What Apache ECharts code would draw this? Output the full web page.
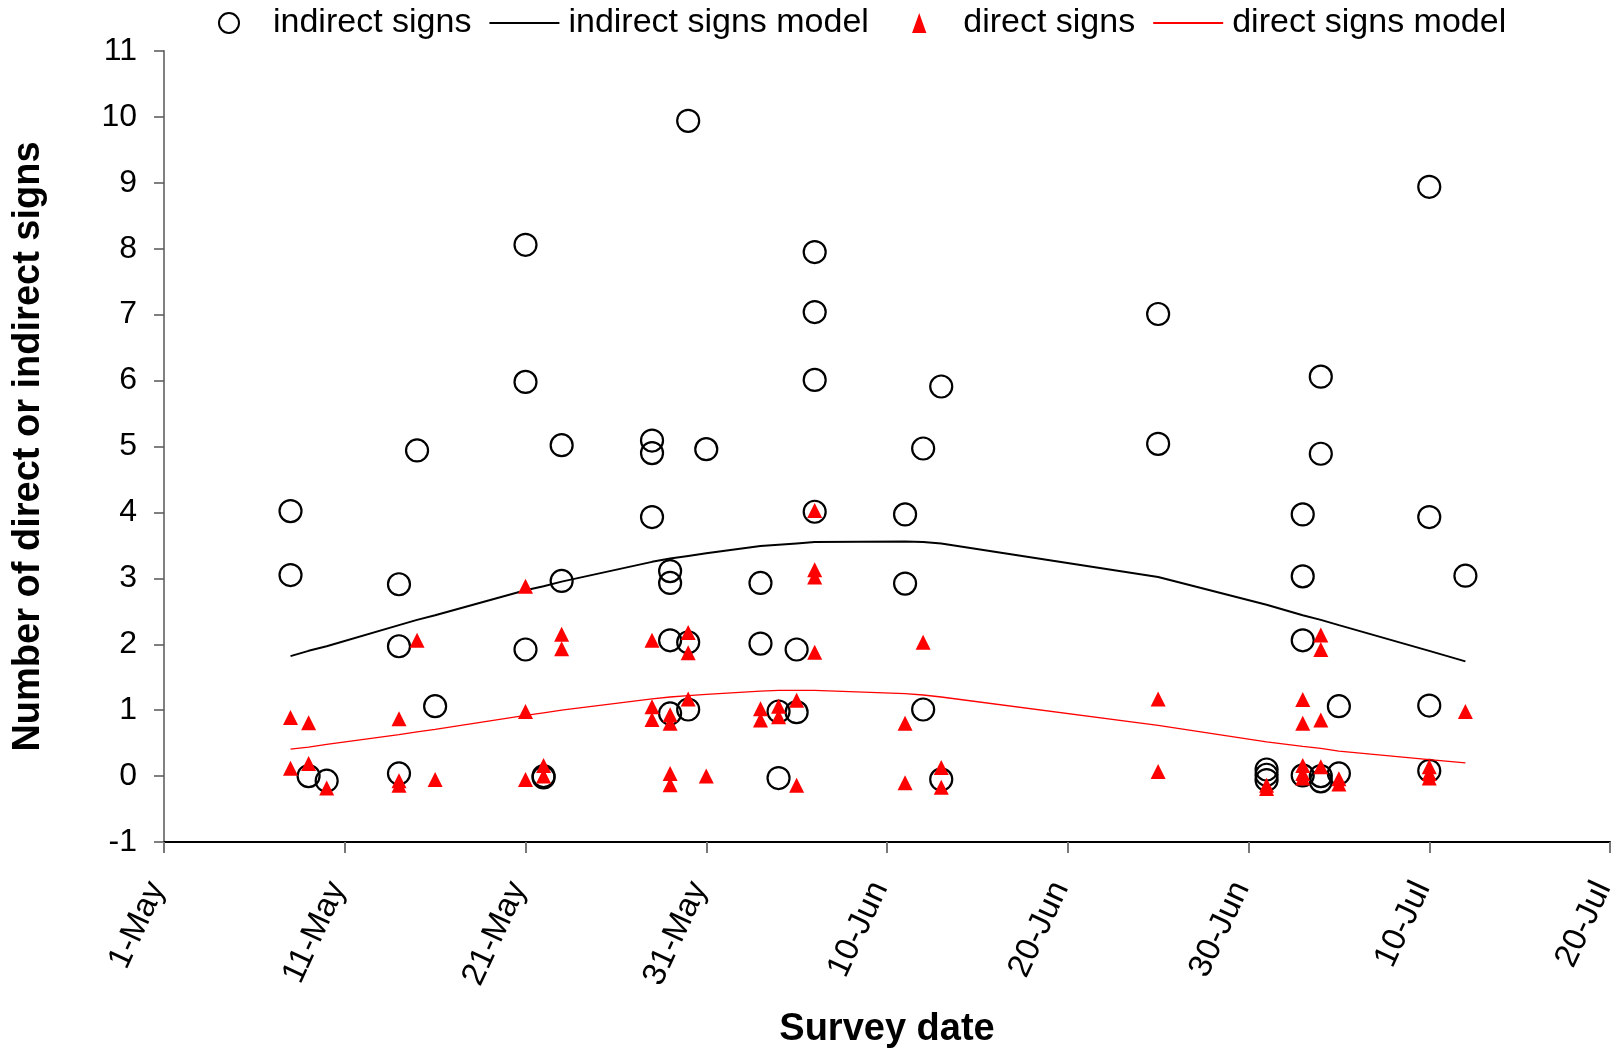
<!DOCTYPE html>
<html>
<head>
<meta charset="utf-8">
<script src="https://cdn.jsdelivr.net/npm/echarts@6/dist/echarts.min.js"></script>
<style>
html,body{margin:0;padding:0;background:#fff;}
#chart{width:1618px;height:1049px;}
</style>
</head>
<body>
<div id="chart"></div>
<script>
// Tick labels of the date axis (every 10 days from 1-May)
const xTickLabels = ['1-May','11-May','21-May','31-May','10-Jun','20-Jun','30-Jun','10-Jul','20-Jul'];
const yTickMin = -1, yTickMax = 11;

// Observed counts (values slightly jittered in the original figure)
const indirectSigns = [
  ['8-May',4.02],['8-May',3.05],['9-May',0.0],['10-May',-0.07],
  ['14-May',2.91],['14-May',1.97],['14-May',0.04],['15-May',4.94],['16-May',1.06],
  ['21-May',8.06],['21-May',5.98],['21-May',1.92],['22-May',0.0],['22-May',-0.02],
  ['23-May',5.02],['23-May',2.96],
  ['28-May',5.09],['28-May',4.90],['28-May',3.93],
  ['29-May',3.11],['29-May',2.93],['29-May',2.06],['29-May',0.95],
  ['30-May',9.94],['30-May',2.03],['30-May',1.01],['31-May',4.96],
  ['3-Jun',2.93],['3-Jun',2.01],['4-Jun',0.98],['4-Jun',-0.03],['5-Jun',1.92],['5-Jun',0.97],
  ['6-Jun',7.95],['6-Jun',7.04],['6-Jun',6.01],['6-Jun',4.01],
  ['11-Jun',3.97],['11-Jun',2.92],['12-Jun',4.97],['12-Jun',1.01],['13-Jun',5.91],['13-Jun',-0.05],
  ['25-Jun',7.01],['25-Jun',5.04],
  ['1-Jul',0.10],['1-Jul',0.02],['1-Jul',-0.06],
  ['3-Jul',3.97],['3-Jul',3.03],['3-Jul',2.06],['3-Jul',0.01],
  ['4-Jul',6.06],['4-Jul',4.89],['4-Jul',0.0],['4-Jul',-0.08],
  ['5-Jul',1.06],['5-Jul',0.04],
  ['10-Jul',8.94],['10-Jul',3.93],['10-Jul',1.07],['10-Jul',0.08],
  ['12-Jul',3.04]
];
const directSigns = [
  ['8-May',0.89],['8-May',0.12],['9-May',0.81],['9-May',0.19],['10-May',-0.18],
  ['14-May',0.87],['14-May',-0.07],['14-May',-0.14],['15-May',2.06],['16-May',-0.05],
  ['21-May',2.88],['21-May',0.98],['21-May',-0.05],['22-May',0.16],['22-May',0.0],
  ['23-May',2.15],['23-May',1.93],
  ['28-May',2.06],['28-May',1.05],['28-May',0.86],
  ['29-May',0.93],['29-May',0.80],['29-May',0.04],['29-May',-0.13],
  ['30-May',2.18],['30-May',1.87],['30-May',1.17],['31-May',0.0],
  ['3-Jun',1.02],['3-Jun',0.85],['4-Jun',1.06],['4-Jun',0.90],['5-Jun',1.15],['5-Jun',-0.14],
  ['6-Jun',4.03],['6-Jun',3.13],['6-Jun',3.02],['6-Jun',1.88],
  ['11-Jun',0.80],['11-Jun',-0.10],['12-Jun',2.03],['13-Jun',0.13],['13-Jun',-0.17],
  ['25-Jun',1.17],['25-Jun',0.07],
  ['1-Jul',-0.14],['1-Jul',-0.19],
  ['3-Jul',1.16],['3-Jul',0.80],['3-Jul',0.16],['3-Jul',0.04],['3-Jul',-0.03],
  ['4-Jul',2.14],['4-Jul',1.92],['4-Jul',0.85],['4-Jul',0.14],
  ['5-Jul',-0.04],['5-Jul',-0.12],
  ['10-Jul',0.14],['10-Jul',0.04],['10-Jul',-0.03],
  ['12-Jul',0.98]
];

// Fitted model values at each survey date
const surveyDates = ['8-May','9-May','10-May','14-May','15-May','16-May','21-May','22-May','23-May',
  '28-May','29-May','30-May','31-May','3-Jun','4-Jun','5-Jun','6-Jun','11-Jun','12-Jun','13-Jun',
  '25-Jun','1-Jul','3-Jul','4-Jul','5-Jul','10-Jul','12-Jul'];
const indirectModel = [1.82,1.90,1.97,2.29,2.37,2.44,2.82,2.88,2.95,
  3.25,3.30,3.34,3.38,3.49,3.51,3.53,3.55,3.56,3.55,3.53,
  3.02,2.60,2.44,2.37,2.29,1.90,1.74];
const directModel = [0.41,0.44,0.48,0.63,0.67,0.71,0.92,0.96,1.00,
  1.17,1.20,1.22,1.24,1.29,1.30,1.30,1.30,1.25,1.23,1.20,
  0.77,0.52,0.45,0.42,0.38,0.25,0.20];

// date string -> days since 1-May
const monthStart = {May:0, Jun:31, Jul:61};
function dayOf(s){ const p = s.split('-'); return monthStart[p[1]] + Number(p[0]) - 1; }

const FONT = "'Liberation Sans', Arial, sans-serif";
const chart = echarts.init(document.getElementById('chart'), null, {renderer:'canvas'});

chart.setOption({
  animation: false,
  backgroundColor: '#ffffff',
  textStyle: {fontFamily: FONT, color: '#000'},
  legend: {
    left: 213, top: 1,
    itemWidth: 70, itemHeight: 20, itemGap: 17,
    symbolKeepAspect: true,
    textStyle: {fontSize: 34, fontFamily: FONT, color: '#000', padding: [0,0,0,4]},
    data: [
      {name: 'indirect signs', icon: 'circle'},
      {name: 'indirect signs model', itemStyle: {opacity: 0}},
      {name: 'direct signs', icon: 'path://M-27.5,21L-27.5,21ZM0,21L7.5,0L15,21ZM42.5,0L42.5,0Z', symbolKeepAspect: true},
      {name: 'direct signs model', itemStyle: {opacity: 0}}
    ]
  },
  grid: {left: 164, right: 8, top: 51, bottom: 207, containLabel: false, outerBoundsMode: 'none'},
  xAxis: {
    type: 'value', min: 0, max: 80, interval: 10,
    name: 'Survey date', nameLocation: 'middle', nameGap: 169,
    nameTextStyle: {fontSize: 38, fontWeight: 'bold', fontFamily: FONT, color: '#000'},
    axisLine: {show: true, onZero: false, lineStyle: {color: '#000', width: 2}},
    axisTick: {show: true, inside: false, length: 11, lineStyle: {color: '#777', width: 2}},
    axisLabel: {
      rotate: 65, margin: 45, fontSize: 33, fontFamily: FONT, color: '#000',
      align: 'right', verticalAlign: 'bottom', lineHeight: 16,
      formatter: function(v){ return xTickLabels[Math.round(v/10)]; }
    },
    splitLine: {show: false}
  },
  yAxis: {
    type: 'value', min: yTickMin, max: yTickMax, interval: 1,
    name: 'Number of direct or indirect signs', nameLocation: 'middle', nameGap: 116, nameRotate: 90,
    nameTextStyle: {fontSize: 38, fontWeight: 'bold', fontFamily: FONT, color: '#000'},
    axisLine: {show: true, onZero: false, lineStyle: {color: '#808080', width: 2}},
    axisTick: {show: true, inside: false, length: 10, lineStyle: {color: '#555', width: 1.5}},
    axisLabel: {margin: 27, fontSize: 32, fontFamily: FONT, color: '#000'},
    splitLine: {show: false}
  },
  series: [
    {
      name: 'indirect signs', type: 'scatter', symbol: 'circle', symbolSize: 22,
      itemStyle: {color: 'rgba(255,255,255,0)', borderColor: '#000', borderWidth: 2.2, opacity: 1},
      emphasis: {disabled: true},
      data: indirectSigns.map(p => [dayOf(p[0]), p[1]]),
      z: 2
    },
    {
      name: 'indirect signs model', type: 'line', symbol: 'none', showSymbol: false, smooth: false,
      lineStyle: {color: '#000', width: 2},
      itemStyle: {color: '#000'},
      emphasis: {disabled: true},
      data: surveyDates.map((d, i) => [dayOf(d), indirectModel[i]]),
      z: 3
    },
    {
      name: 'direct signs', type: 'scatter', symbol: 'triangle', symbolSize: 15,
      itemStyle: {color: '#ff0000', opacity: 1},
      emphasis: {disabled: true},
      data: directSigns.map(p => [dayOf(p[0]), p[1]]),
      z: 4
    },
    {
      name: 'direct signs model', type: 'line', symbol: 'none', showSymbol: false, smooth: false,
      lineStyle: {color: '#ff0000', width: 1.3},
      itemStyle: {color: '#ff0000'},
      emphasis: {disabled: true},
      data: surveyDates.map((d, i) => [dayOf(d), directModel[i]]),
      z: 5
    }
  ]
});
</script>
</body>
</html>
